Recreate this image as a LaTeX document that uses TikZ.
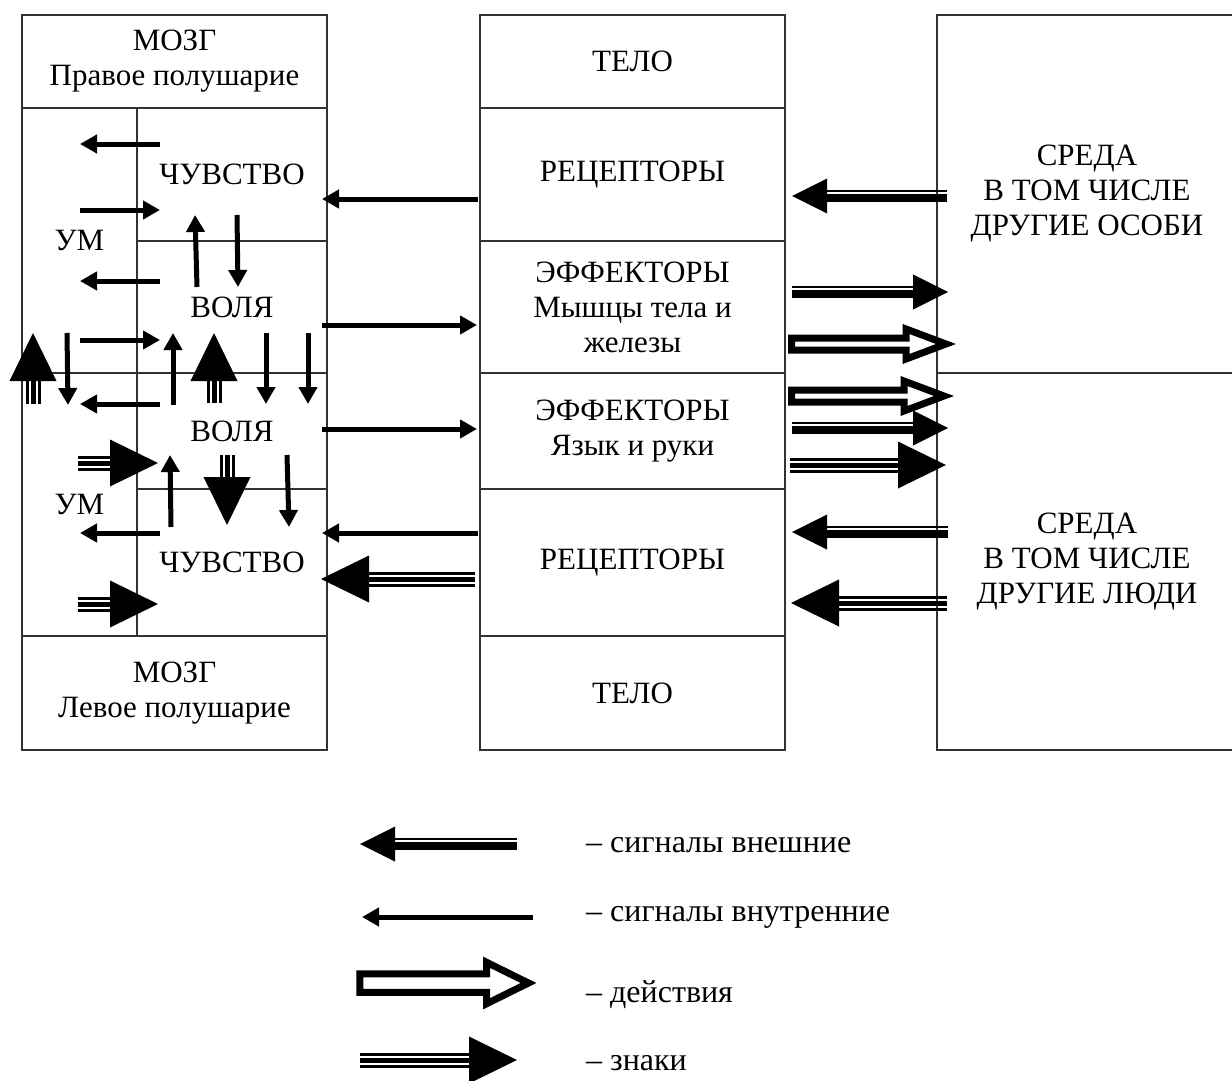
\documentclass[tikz,border=0pt]{standalone}
\usepackage{fontspec}
\setmainfont{Liberation Serif}
\usetikzlibrary{arrows.meta, positioning}

\tikzset{
  cell/.style={draw=black!80, line width=1.6pt, outer sep=0pt, inner sep=0pt, align=center, font=\fontsize{31}{35}\selectfont},
  key/.style={anchor=west, inner sep=0pt, font=\fontsize{32}{35}\selectfont},
  intsig/.style={line width=5pt, -{Triangle[length=17pt, width=18pt]}},
  % external signal: thin and thick line, black head
  pics/extsig/.style={code={
    \fill (0,0) -- (-35,-17.5) -- (-35,17.5) -- cycle;
    \fill (-34,-6) rectangle (-#1,-3.6);
    \fill (-34,-1.6) rectangle (-#1,6);
  }},
  % sign: three lines, big head
  pics/signs/.style={code={
    \fill (0,0) -- (-48,-23.5) -- (-48,23.5) -- cycle;
    \fill (-47,-7.5) rectangle (-#1,-4.5);
    \fill (-47,-2.5) rectangle (-#1,2.5);
    \fill (-47,4.5) rectangle (-#1,7.5);
  }},
  % action: hollow arrow
  pics/action/.style n args={4}{code={
    \draw[line width=7pt, fill=white, line join=miter, miter limit=10]
      (0,0) -- (-#4,-#3) -- (-#4,-#2) -- (-#1,-#2) -- (-#1,#2) -- (-#4,#2) -- (-#4,#3) -- cycle;
  }}
}

\begin{document}
\begin{tikzpicture}[x=1pt, y=-1pt]
\useasboundingbox (0,0) rectangle (1232,1081);

% Brain
\node[cell, minimum width=305pt, minimum height=93pt] (brainR) at (174.5,61.5) {МОЗГ\\Правое полушарие};
\node[cell, minimum width=115pt, minimum height=265pt, below right=0pt of brainR.south west] (mind1) {УМ};
\node[cell, minimum width=190pt, minimum height=133pt, below right=0pt of mind1.north east] (feel1) {ЧУВСТВО};
\node[cell, minimum width=190pt, minimum height=132pt, below=0pt of feel1] (will1) {ВОЛЯ};
\node[cell, minimum width=115pt, minimum height=263pt, below=0pt of mind1] (mind2) {УМ};
\node[cell, minimum width=190pt, minimum height=116pt, below=0pt of will1] (will2) {ВОЛЯ};
\node[cell, minimum width=190pt, minimum height=147pt, below=0pt of will2] (feel2) {ЧУВСТВО};
\node[cell, minimum width=305pt, minimum height=114pt, below right=0pt of mind2.south west] (brainL) {МОЗГ\\Левое полушарие};

% Body
\node[cell, minimum width=305pt, minimum height=93pt] (body1) at (632.5,61.5) {ТЕЛО};
\node[cell, minimum width=305pt, minimum height=133pt, below=0pt of body1] (recep1) {РЕЦЕПТОРЫ};
\node[cell, minimum width=305pt, minimum height=132pt, below=0pt of recep1] (effect1) {ЭФФЕКТОРЫ\\Мышцы тела и\\железы};
\node[cell, minimum width=305pt, minimum height=116pt, below=0pt of effect1] (effect2) {ЭФФЕКТОРЫ\\Язык и руки};
\node[cell, minimum width=305pt, minimum height=147pt, below=0pt of effect2] (recep2) {РЕЦЕПТОРЫ};
\node[cell, minimum width=305pt, minimum height=114pt, below=0pt of recep2] (body2) {ТЕЛО};

% Environment
\node[cell, minimum width=300pt, minimum height=358pt] (env1) at (1087,194) {СРЕДА\\В ТОМ ЧИСЛЕ\\ДРУГИЕ ОСОБИ};
\node[cell, minimum width=300pt, minimum height=377pt, below=0pt of env1] (env2) {СРЕДА\\В ТОМ ЧИСЛЕ\\ДРУГИЕ ЛЮДИ};

% Internal signals
\draw[intsig] (160,144) -- (80,144);
\draw[intsig] (80,210) -- (160,210);
\draw[intsig] (197,287) -- (195,215);
\draw[intsig] (237,215) -- (238,287);
\draw[intsig] (160,281) -- (80,281);
\draw[intsig] (80,340) -- (160,340);
\draw[intsig] (173,405) -- (173,333);
\draw[intsig] (67,333) -- (68,405);
\draw[intsig] (266,333) -- (266,404);
\draw[intsig] (308,333) -- (308,404);
\draw[intsig] (160,404) -- (80,404);
\draw[intsig] (171,527) -- (170,455);
\draw[intsig] (287,455) -- (289,527);
\draw[intsig] (160,533) -- (80,533);
\draw[intsig] (478,199) -- (322,199);
\draw[intsig] (322,325) -- (477,325);
\draw[intsig] (322,429) -- (477,429);
\draw[intsig] (478,533) -- (322,533);

% Signs
\pic[rotate=90] at (33,333) {signs=71};
\pic[rotate=90] at (214,333) {signs=70};
\pic at (158,463) {signs=80};
\pic[rotate=-90] at (227,525) {signs=70};
\pic at (158,604) {signs=80};
\pic[xscale=-1] at (321,579) {signs=154};
\pic at (946,465) {signs=156};
\pic[xscale=-1] at (791,603) {signs=156};

% External signals
\pic[xscale=-1] at (792,196) {extsig=155};
\pic at (948,292) {extsig=156};
\pic at (948,428) {extsig=156};
\pic[xscale=-1] at (792,532) {extsig=156};

% Actions
\pic at (946,344) {action={154.5}{6}{15}{40}};
\pic at (944,396) {action={152.5}{6}{15}{40}};

% Legend
\pic[xscale=-1] at (360,844) {extsig=157};
\draw[intsig] (533,917) -- (362,917);
\pic[line width=7.5pt] at (528.5,983) {action={168.75}{9.25}{20.75}{42}};
\pic at (517,1060) {signs=157};
\node[key] (keyext) at (586,845) {– сигналы внешние};
\node[key] (keyint) at (586,917) {– сигналы внутренние};
\node[key] (keyact) at (586,995) {– действия};
\node[key] (keysign) at (586,1063) {– знаки};

\end{tikzpicture}
\end{document}
